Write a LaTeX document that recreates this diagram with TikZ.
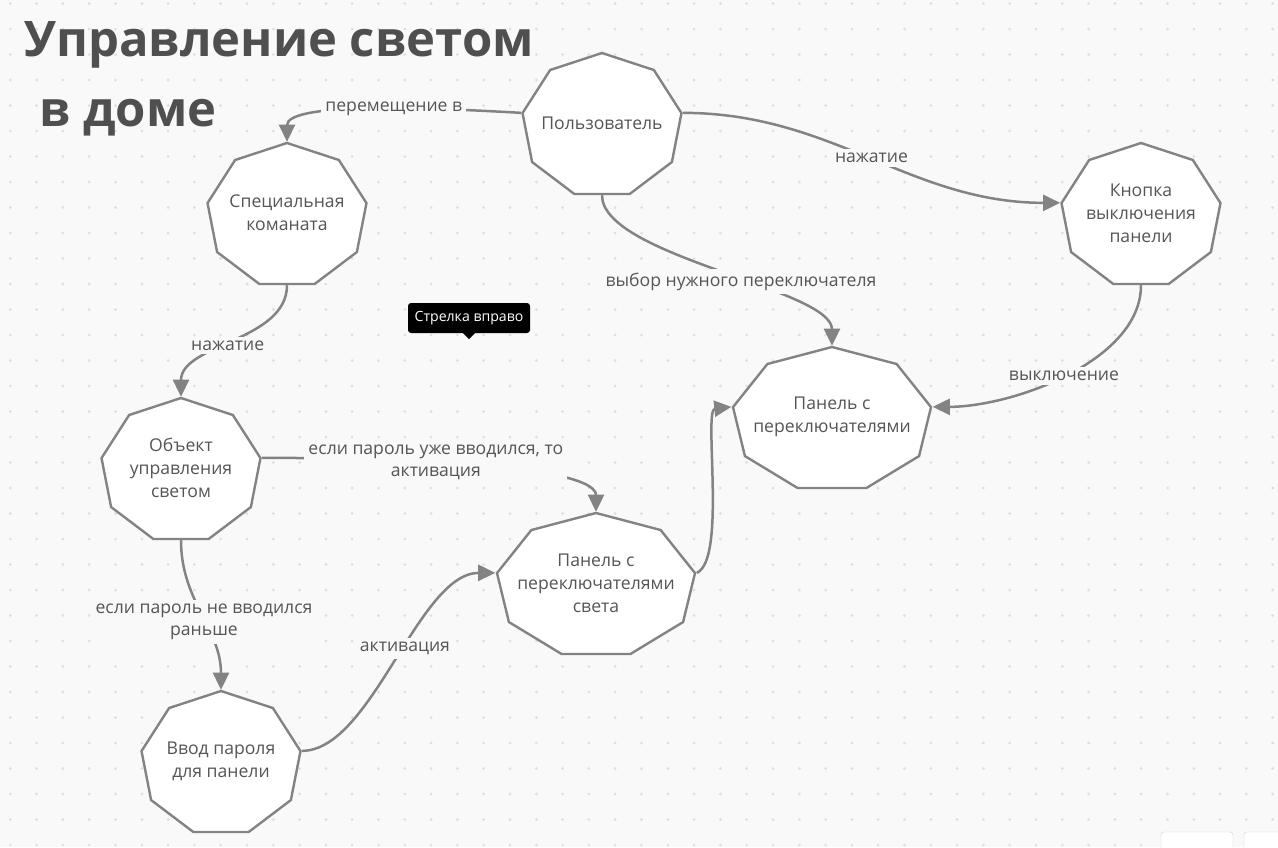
\documentclass[tikz,border=0pt]{standalone}
\usepackage{fontspec}
\setmainfont{Open Sans}
\usetikzlibrary{shapes.geometric,arrows.meta}
\definecolor{bgc}{HTML}{F9F9FA}
\definecolor{dotc}{HTML}{DEDEE0}
\definecolor{linec}{HTML}{838383}
\definecolor{titlec}{HTML}{4F4F4F}
\definecolor{txtc}{HTML}{555555}
\begin{document}
\begin{tikzpicture}[x=1pt, y=-1pt,
	nona/.style={regular polygon, regular polygon sides=9, minimum size=145.4pt, inner sep=0pt, draw=linec, line width=2.4pt, fill=white, xscale=#1},
	nona/.default=1.11,
	ntext/.style={text=txtc, align=center, font=\fontsize{17.6}{23}\selectfont, yshift=2.5pt},
	lbl/.style={fill=bgc, text=txtc, align=center, inner sep=4pt, font=\fontsize{17.6}{22}\selectfont},
	edge/.style={draw=linec, line width=2.5pt, -{Triangle[length=17pt, width=16pt]}},
	]
	%background
	\fill[bgc] (0,0) rectangle (1278,847);
	\useasboundingbox (0,0) rectangle (1278,847);
	\foreach \i in {0,...,48}{
		\foreach \j in {0,...,33}{
			\fill[dotc] (10.3+26.3*\i, 3.5+25.5*\j) circle (1.5pt);
		}
	}
	
	%title
	\node[anchor=north west, inner sep=0pt, align=left, text=titlec, font=\fontsize{49}{70}\selectfont\bfseries] (title) at (24,21) {Управление светом\\\hspace*{15pt}в доме};
	
	%nodes
	\node[nona] (user) at (602,125.7) {};
	\node[ntext] (user-t) at (user) {Пользователь};
	\node[nona] (room) at (287,215.7) {};
	\node[ntext] (room-t) at (room) {Специальная\\команата};
	\node[nona] (knob) at (1141,215.7) {};
	\node[ntext] (knob-t) at (knob) {Кнопка\\выключения\\панели};
	\node[nona=1.383] (panel) at (832,419.7) {};
	\node[ntext] (panel-t) at (panel) {Панель с\\переключателями};
	\node[nona] (obj) at (181,470.7) {};
	\node[ntext] (obj-t) at (obj) {Объект\\управления\\светом};
	\node[nona=1.383] (lpanel) at (596,585.7) {};
	\node[ntext] (lpanel-t) at (lpanel) {Панель с\\переключателями\\света};
	\node[nona] (pass) at (221,763.7) {};
	\node[ntext] (pass-t) at (pass) {Ввод пароля\\для панели};
	
	%edges
	\draw[edge] (user.170) .. controls +(-104,-6) and +(0,-39) .. node[lbl, pos=0.4] (l-move) {перемещение в} (room.90);
	\draw[edge] (user.10) .. controls +(150,0) and +(-150,0) .. node[lbl] (l-press1) {нажатие} (knob.170);
	\draw[edge] (user.270) .. controls +(0,61) and +(0,-57) .. node[lbl, pos=0.57] (l-choose) {выбор нужного переключателя} (panel.90);
	\draw[edge] (knob.270) .. controls +(0,76) and +(79,0) .. node[lbl, pos=0.51] (l-off) {выключение} (panel.10);
	\draw[edge] (room.270) .. controls +(0,56) and +(0,-53) .. node[lbl, pos=0.54] (l-press2) {нажатие} (obj.90);
	\draw[edge] (obj.10) .. controls +(180,0) and +(0,-43) .. node[lbl, pos=0.35] (l-yes) {если пароль уже вводился, то\\активация} (lpanel.90);
	\draw[edge] (obj.270) .. controls +(0,61) and +(0,-61) .. node[lbl, pos=0.55] (l-no) {если пароль не вводился\\раньше} (pass.90);
	\draw[edge] (pass.10) .. controls +(70,0) and +(-77,0) .. node[lbl, pos=0.55] (l-act) {активация} (lpanel.170);
	\draw[edge] (lpanel.10) .. controls +(30,-13) and +(-28,3) .. (panel.170);
	
	%tooltip
	\node[fill=black, text=white, rounded corners=3pt, minimum width=122pt, minimum height=30pt, inner sep=0pt, font=\fontsize{14.1}{16}\selectfont] (tip) at (469,318) {Стрелка вправо};
	\fill[black] ([xshift=-6pt]tip.south) -- ([yshift=-6pt]tip.south) -- ([xshift=6pt]tip.south) -- cycle;
	
	%toolbar corner
	\draw[gray!35, fill=white, rounded corners=3pt] (1161,832) rectangle (1233,860);
	\draw[gray!35, fill=white, rounded corners=3pt] (1244,832) rectangle (1290,860);
\end{tikzpicture}
\end{document}
